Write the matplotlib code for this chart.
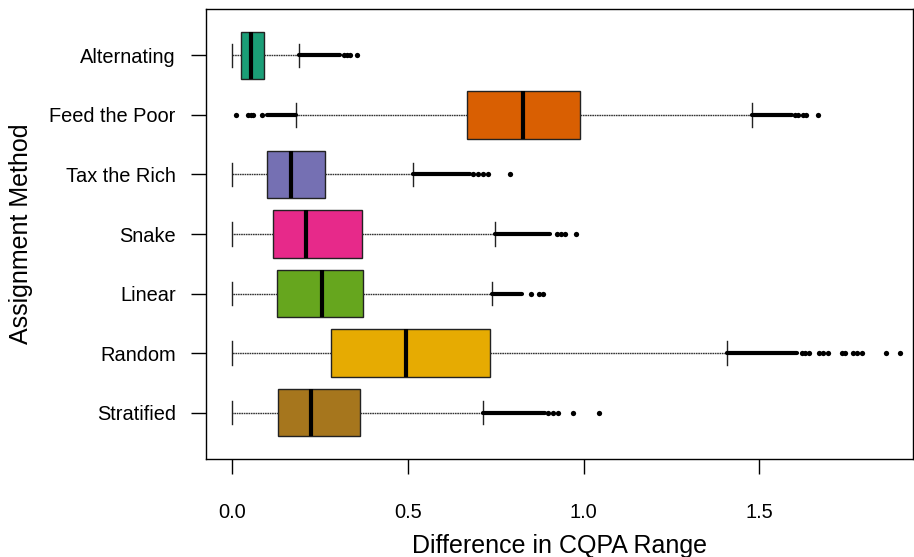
import matplotlib
matplotlib.use("Agg")
import matplotlib.pyplot as plt

plt.rcParams['font.family'] = ['Liberation Sans', 'DejaVu Sans']

# ---- data (top to bottom) ----
methods = ["Alternating", "Feed the Poor", "Tax the Rich", "Snake", "Linear", "Random", "Stratified"]
colors = ["#1B9E77", "#D95F02", "#7570B3", "#E7298A", "#66A61E", "#E6AB02", "#A6761D"]
whislo = [0.000, 0.183, 0.000, 0.000, 0.000, 0.000, 0.000]
q1     = [0.026, 0.668, 0.099, 0.118, 0.127, 0.283, 0.130]
med    = [0.053, 0.827, 0.167, 0.210, 0.255, 0.494, 0.224]
q3     = [0.092, 0.991, 0.265, 0.370, 0.374, 0.733, 0.364]
whishi = [0.190, 1.478, 0.516, 0.747, 0.739, 1.407, 0.715]
# dense stretches of outliers, drawn as continuous runs of dots (lo, hi)
dense_runs = [
    [(0.190, 0.307)],
    [(0.099, 0.183), (1.478, 1.592)],
    [(0.516, 0.677)],
    [(0.747, 0.905)],
    [(0.739, 0.824)],
    [(1.407, 1.607)],
    [(0.715, 0.890)],
]
# individually visible outliers
sparse_outliers = [
    [0.318, 0.326, 0.335, 0.355],
    [0.0105, 0.046, 0.053, 0.061, 0.084, 1.602, 1.611, 1.624, 1.633, 1.667],
    [0.685, 0.701, 0.715, 0.729, 0.791],
    [0.924, 0.935, 0.947, 0.978],
    [0.851, 0.872, 0.884],
    [1.621, 1.630, 1.640, 1.671, 1.682, 1.695, 1.735, 1.744, 1.766, 1.779, 1.791, 1.860, 1.900],
    [0.900, 0.912, 0.926, 0.971, 1.044],
]
xticks = [0.0, 0.5, 1.0, 1.5]
xticklabels = ["0.0", "0.5", "1.0", "1.5"]

n = len(methods)
positions = [n - i for i in range(n)]

fig = plt.figure(figsize=(9.14, 5.57), dpi=100)
ax = fig.add_axes([205.7 / 914, 1 - 459 / 557, (913 - 205.7) / 914, (459 - 9) / 557])

stats = []
for i in range(n):
    stats.append(dict(label=methods[i], whislo=whislo[i], q1=q1[i], med=med[i],
                      q3=q3[i], whishi=whishi[i], fliers=[]))

kw = dict(positions=positions, widths=0.8, patch_artist=True, showfliers=False,
          boxprops=dict(edgecolor="#222222", linewidth=1.0),
          medianprops=dict(color="black", linewidth=3.0, solid_capstyle="butt"),
          whiskerprops=dict(color="#333333", linewidth=1.0, linestyle=(0, (1.2, 0.5))),
          capprops=dict(color="#222222", linewidth=1.0))
try:
    bp = ax.bxp(stats, orientation="horizontal", **kw)
except TypeError:
    bp = ax.bxp(stats, vert=False, **kw)

for patch, c in zip(bp["boxes"], colors):
    patch.set_facecolor(c)

for i in range(n):
    y = positions[i]
    for lo, hi in dense_runs[i]:
        ax.plot([lo, hi], [y, y], color="black", linewidth=3.0,
                solid_capstyle="round", zorder=3)
    xs = sparse_outliers[i]
    ax.plot(xs, [y] * len(xs), linestyle="none", marker="o", markersize=3.8,
            color="black", markeredgewidth=0, zorder=3)

ax.set_xlim(-0.0748, 1.937)
ax.set_ylim(0.22, 7.78)
ax.set_yticks(positions)
ax.set_yticklabels(methods, fontsize=14.4)
ax.set_xticks(xticks)
ax.set_xticklabels(xticklabels, fontsize=14.4)
ax.tick_params(axis="y", direction="out", length=10.5, width=1, pad=11)
ax.tick_params(axis="x", direction="out", length=10.5, width=1, pad=21)
for s in ax.spines.values():
    s.set_linewidth(1.0)
    s.set_color("black")

ax.set_xlabel("Difference in CQPA Range", fontsize=18, labelpad=9)
ax.set_ylabel("Assignment Method", fontsize=18, labelpad=12)

fig.savefig("out.png", dpi=100)
